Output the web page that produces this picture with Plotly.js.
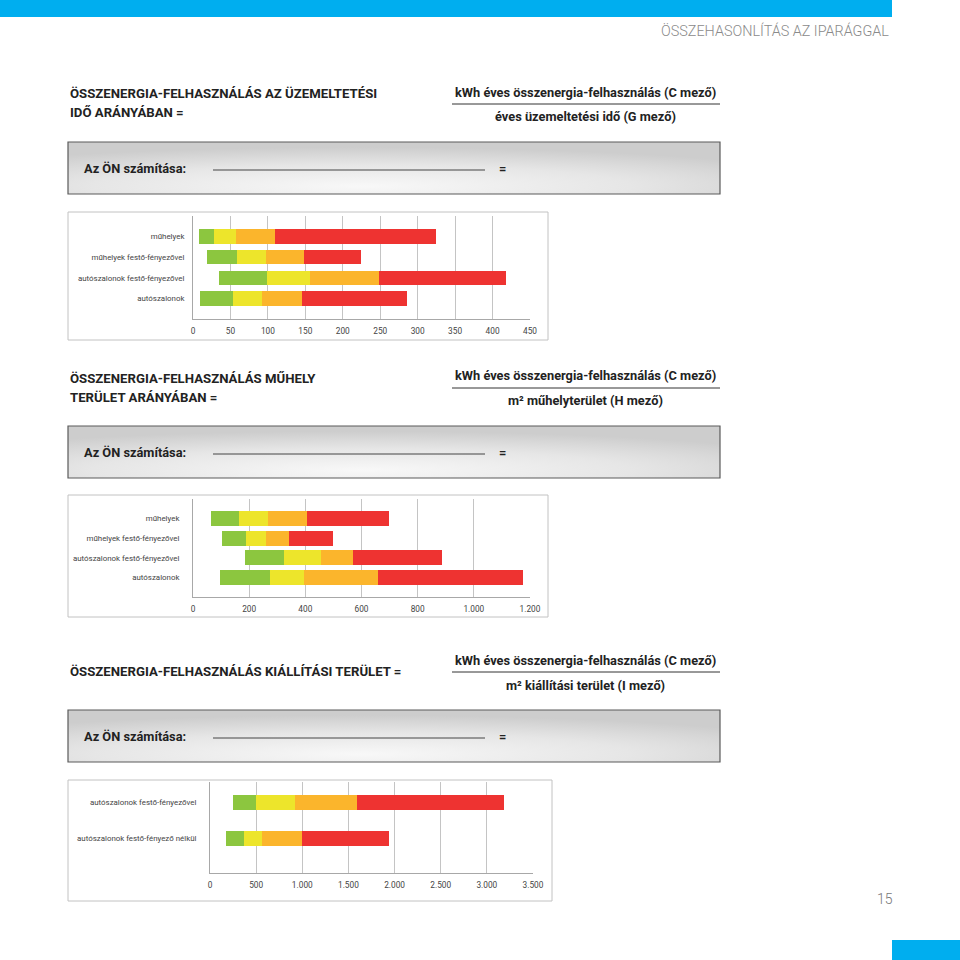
<!DOCTYPE html>
<html>
<head>
<meta charset="utf-8">
<script src="https://cdn.plot.ly/plotly-3.0.1.min.js"></script>
<style>
  html, body { margin: 0; padding: 0; background: #ffffff; }
  #chart { width: 960px; height: 960px; }
</style>
</head>
<body>
<div id="chart"></div>
<script>
// ---------------- DATA ----------------
const cats1 = ['műhelyek', 'műhelyek festő-fényezővel', 'autószalonok festő-fényezővel', 'autószalonok'];
const start1 = [8, 19, 35, 9];
const green1 = [28, 59, 99, 54];
const yellow1 = [58, 98, 156, 92];
const orange1 = [109, 148, 248, 146];
const red1 = [325, 224, 418, 286];

const cats2 = ['műhelyek', 'műhelyek festő-fényezővel', 'autószalonok festő-fényezővel', 'autószalonok'];
const start2 = [65, 103, 185, 97];
const green2 = [163, 189, 324, 274];
const yellow2 = [268, 261, 455, 397];
const orange2 = [405, 341, 570, 659];
const red2 = [699, 500, 885, 1174];

const cats3 = ['autószalonok festő-fényezővel', 'autószalonok festő-fényező nélkül'];
const start3 = [252, 173];
const green3 = [497, 364];
const yellow3 = [916, 559];
const orange3 = [1593, 1002];
const red3 = [3183, 1939];

const ticks1 = [0, 50, 100, 150, 200, 250, 300, 350, 400, 450];
const ticks2 = [0, 200, 400, 600, 800, 1000, 1200];
const ticks3 = [0, 500, 1000, 1500, 2000, 2500, 3000, 3500];

const pageTitle = 'ÖSSZEHASONLÍTÁS AZ IPARÁGGAL';
const pageNumber = '15';

// ---------------- HELPERS ----------------
const W = 960, H = 960;
const X = p => p / W;
const Y = p => 1 - p / H;
const SEGCOLORS = ['#8cc63f', '#ede52b', '#fbb52c', '#ee3331'];
const CFONT = "Roboto, sans-serif";
const HFONT = "Roboto, 'Liberation Sans', sans-serif";

const traces = [];
function addBars(cats, bounds, xa, ya, w) {
  for (let k = 0; k < 4; k++) {
    traces.push({
      type: 'bar', orientation: 'h',
      y: cats,
      x: bounds[k + 1].map((v, i) => v - bounds[k][i]),
      base: bounds[k],
      xaxis: xa, yaxis: ya,
      width: w,
      marker: { color: SEGCOLORS[k], line: { width: 0 } },
      hoverinfo: 'skip', showlegend: false
    });
  }
}
addBars(cats1, [start1, green1, yellow1, orange1, red1], 'x', 'y', 0.7);
addBars(cats2, [start2, green2, yellow2, orange2, red2], 'x2', 'y2', 0.75);
addBars(cats3, [start3, green3, yellow3, orange3, red3], 'x3', 'y3', 0.41);

function xax(d0, d1, range, tv, anchor) {
  return {
    domain: [X(d0), X(d1)], anchor: anchor, range: range,
    tickmode: 'array', tickvals: tv, separatethousands: true,
    showgrid: true, gridcolor: '#c4c4c4', gridwidth: 1,
    zeroline: false, showline: true, linecolor: '#a8a8a8', linewidth: 1,
    ticks: 'outside', ticklen: 4, tickcolor: 'rgba(0,0,0,0)',
    tickfont: { family: CFONT, size: 8.3, color: '#444' },
    fixedrange: true
  };
}
function yax(top, bottom, range, anchor, standoff) {
  return {
    domain: [Y(bottom), Y(top)], anchor: anchor, type: 'category', range: range,
    showgrid: false, zeroline: false, showline: true, linecolor: '#a8a8a8', linewidth: 1,
    ticks: 'outside', ticklen: standoff, tickcolor: 'rgba(0,0,0,0)',
    tickfont: { family: CFONT, size: 7.9, color: '#444' },
    fixedrange: true
  };
}

// ---------------- SHAPES & TEXT ----------------
const shapes = [];
const annotations = [];
const images = [];

function rectPx(x0, y0, x1, y1, opts) {
  shapes.push(Object.assign({ type: 'rect', xref: 'paper', yref: 'paper',
    x0: X(x0), x1: X(x1), y0: Y(y1), y1: Y(y0) }, opts));
}
function linePx(x0, y0, x1, y1, color, w) {
  shapes.push({ type: 'line', xref: 'paper', yref: 'paper',
    x0: X(x0), x1: X(x1), y0: Y(y0), y1: Y(y1), line: { color: color, width: w } });
}
function textPx(t, x, y, anchor, font) {
  annotations.push({ text: t, xref: 'paper', yref: 'paper', x: X(x), y: Y(y),
    xanchor: anchor, yanchor: 'middle', showarrow: false, font: font });
}

// top blue bar, bottom blue block
rectPx(0, 0, 892, 17, { fillcolor: '#00aeef', line: { width: 0 }, layer: 'below' });
rectPx(892, 940, 960, 960, { fillcolor: '#00aeef', line: { width: 0 }, layer: 'below' });
textPx(pageTitle, 891, 31, 'right', { family: HFONT, size: 14.4, color: '#8a8a8a', weight: 300 });
textPx(pageNumber, 885, 899, 'center', { family: HFONT, size: 14, color: '#777', weight: 300 });

const boldH = { family: HFONT, size: 13.2, color: '#222', weight: 700 };
const boldF = { family: HFONT, size: 12.8, color: '#222', weight: 700 };

// section headers
textPx('ÖSSZENERGIA-FELHASZNÁLÁS AZ ÜZEMELTETÉSI', 68, 93, 'left', boldH);
textPx('IDŐ ARÁNYÁBAN =', 68, 112, 'left', boldH);
textPx('kWh éves összenergia-felhasználás (C mező)', 585, 92, 'center', boldF);
linePx(452, 104, 720, 104, '#333', 1);
textPx('éves üzemeltetési idő (G mező)', 585, 116, 'center', boldF);

textPx('ÖSSZENERGIA-FELHASZNÁLÁS MŰHELY', 68, 378, 'left', boldH);
textPx('TERÜLET ARÁNYÁBAN =', 68, 397, 'left', boldH);
textPx('kWh éves összenergia-felhasználás (C mező)', 585, 376, 'center', boldF);
linePx(452, 388, 720, 388, '#333', 1);
textPx('m² műhelyterület (H mező)', 585, 400, 'center', boldF);

textPx('ÖSSZENERGIA-FELHASZNÁLÁS KIÁLLÍTÁSI TERÜLET =', 68, 671, 'left', boldH);
textPx('kWh éves összenergia-felhasználás (C mező)', 585, 660, 'center', boldF);
linePx(452, 672, 720, 672, '#333', 1);
textPx('m² kiállítási terület (I mező)', 585, 685, 'center', boldF);

// grey calculation boxes
const gradSvg = 'data:image/svg+xml;charset=utf-8,' + encodeURIComponent(
  '<svg xmlns="http://www.w3.org/2000/svg" width="652" height="52" viewBox="0 0 652 52" preserveAspectRatio="none">' +
  '<defs><radialGradient id="g" cx="0.45" cy="0.85" r="0.75">' +
  '<stop offset="0" stop-color="#f8f8f8"/><stop offset="0.55" stop-color="#e6e6e6"/><stop offset="1" stop-color="#cdcdcd"/>' +
  '</radialGradient></defs><rect width="652" height="52" fill="url(#g)"/></svg>');
[142, 426, 710].forEach(top => {
  images.push({ source: gradSvg, xref: 'paper', yref: 'paper', x: X(68), y: Y(top),
    sizex: 652 / W, sizey: 52 / H, sizing: 'stretch', xanchor: 'left', yanchor: 'top', layer: 'below' });
  rectPx(68, top, 720, top + 52, { fillcolor: 'rgba(0,0,0,0)', line: { color: '#5a5a5a', width: 1.2 }, layer: 'above' });
  textPx('Az ÖN számítása:', 82, top + 26, 'left', { family: HFONT, size: 12.8, color: '#222', weight: 700 });
  linePx(213, top + 28, 485, top + 28, '#444', 1);
  textPx('=', 502, top + 26, 'center', { family: HFONT, size: 12.8, color: '#222', weight: 700 });
});

// chart frames
rectPx(68, 212, 548, 340, { fillcolor: 'rgba(0,0,0,0)', line: { color: '#c2c2c2', width: 1 }, layer: 'below' });
rectPx(68, 495, 548, 617, { fillcolor: 'rgba(0,0,0,0)', line: { color: '#c2c2c2', width: 1 }, layer: 'below' });
rectPx(68, 780, 552, 901, { fillcolor: 'rgba(0,0,0,0)', line: { color: '#c2c2c2', width: 1 }, layer: 'below' });

const layout = {
  width: W, height: H,
  margin: { l: 0, r: 0, t: 0, b: 0, pad: 0 },
  paper_bgcolor: '#ffffff', plot_bgcolor: 'rgba(0,0,0,0)',
  barmode: 'overlay', bargap: 0,
  separators: ',.',
  showlegend: false,
  xaxis: xax(193, 530, [0, 450], ticks1, 'y'),
  yaxis: yax(216, 319, [4, -1], 'x', 6),
  xaxis2: xax(193, 530, [0, 1200], ticks2, 'y2'),
  yaxis2: yax(499, 597, [4, -1], 'x2', 11),
  xaxis3: xax(210, 533, [0, 3500], ticks3, 'y3'),
  yaxis3: yax(782, 873, [1.97, -0.58], 'x3', 11),
  shapes: shapes, annotations: annotations, images: images
};

Plotly.newPlot('chart', traces, layout, { displayModeBar: false, staticPlot: true });
</script>
</body>
</html>
